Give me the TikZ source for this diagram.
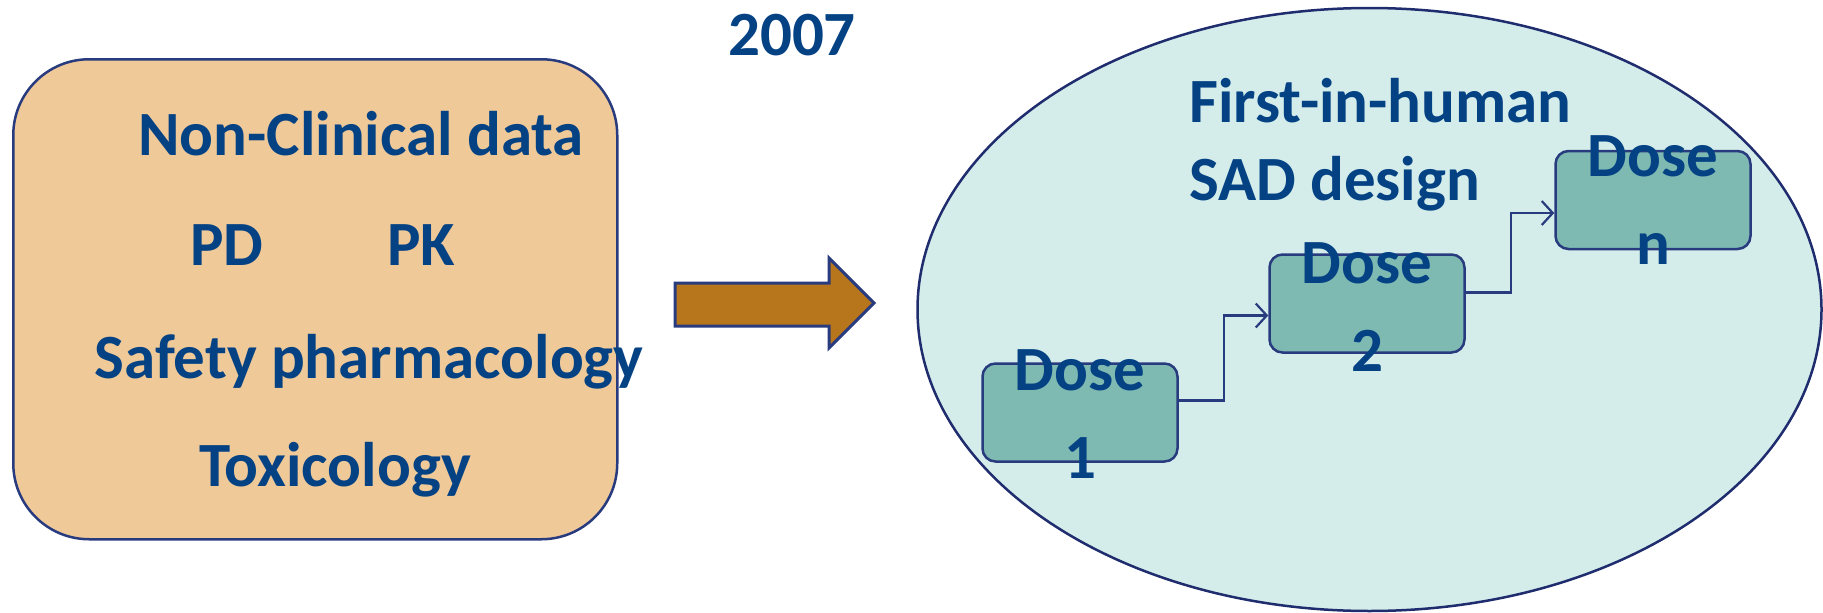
\documentclass[tikz,border=0pt]{standalone}
\usepackage{fontspec}
\setmainfont{Carlito}
\usetikzlibrary{arrows.meta,shapes.geometric,calc}
\definecolor{txt}{HTML}{044284}
\definecolor{edge}{HTML}{283B7E}
\definecolor{ovaledge}{HTML}{1F2C6E}
\definecolor{peach}{HTML}{F0C999}
\definecolor{brownarrow}{HTML}{B8761C}
\definecolor{pale}{HTML}{D4EDEB}
\definecolor{teal}{HTML}{7EBAB2}
\begin{document}
\begin{tikzpicture}[x=1pt,y=-1pt,
  lbl/.style={font=\bfseries\fontsize{63}{78}\selectfont, text=txt, inner sep=0pt},
  doselbl/.style={font=\bfseries\fontsize{63}{88}\selectfont, text=txt, inner sep=0pt, align=center},
  databox/.style={draw=edge, line width=2.5pt, fill=peach, rounded corners=76pt, inner sep=0pt},
  dosebox/.style={draw=edge, line width=2.5pt, fill=teal, rounded corners=13pt, minimum width=195pt, minimum height=98pt, inner sep=0pt},
  oval/.style={ellipse, draw=ovaledge, line width=2.5pt, fill=pale, minimum width=904pt, minimum height=603pt, inner sep=0pt},
  conn/.style={draw=edge, line width=2.2pt, -{Straight Barb[length=11pt,width=24pt,line width=2.2pt]}},
  bigarrow/.style={draw=edge, line width=3pt, fill=brownarrow, line join=miter}
]
\useasboundingbox (0,0) rectangle (1823,613);

% left box
\node[databox, minimum width=604pt, minimum height=480pt, anchor=north west] (nc) at (12,58) {};
\node[lbl, anchor=base] (title) at (361,155) {Non-Clinical data};
\node[lbl, anchor=base] (pd) at (227,265) {PD};
\node[lbl, anchor=base] (pk) at (421,265) {PK};
\node[lbl, anchor=base] (sp) at (369,378) {Safety pharmacology};
\node[lbl, anchor=base] (tox) at (335,486) {Toxicology};

% year
\node[lbl, anchor=base] (year) at (792,55) {2007};

% big arrow
\draw[bigarrow] (675,283) -- (829,283) -- (829,258) -- (874,303) -- (829,348) -- (829,326) -- (675,326) -- cycle;

% ellipse
\node[oval] (fih) at (1369.5,309.5) {};
\node[lbl, anchor=base west] (fih1) at (1189,122) {First-in-human};
\node[lbl, anchor=base west] (fih2) at (1189,200) {SAD design};

% dose boxes
\node[dosebox] (d1) at (1080,412.5) {};
\node[dosebox] (d2) at (1367,303.5) {};
\node[dosebox] (dn) at (1653,200) {};
\node[doselbl] (t1) at ($(d1.center)+(0,2)$) {Dose\\1};
\node[doselbl] (t2) at ($(d2.center)+(0,4)$) {Dose\\2};
\node[doselbl] (tn) at ($(dn.center)+(0,0)$) {Dose\\n};

% connectors
\draw[conn] ($(d1.east)+(0,-12)$) -- ++(45,0) |- ($(d2.west)+(0,12)$);
\draw[conn] ($(d2.east)+(0,-11)$) -- ++(45,0) |- ($(dn.west)+(0,13)$);
\end{tikzpicture}
\end{document}
